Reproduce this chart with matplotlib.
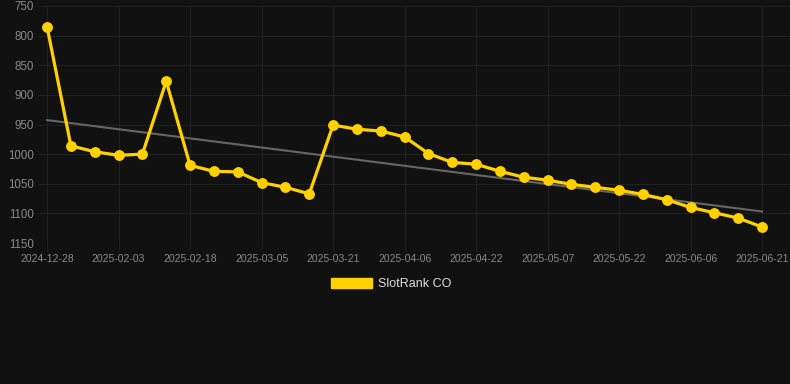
import numpy as np
import matplotlib
matplotlib.use("Agg")
import matplotlib.pyplot as plt
from matplotlib.patches import Patch

# rank values, one every ~5 days
ranks = [785, 986, 996, 1002, 1000, 877, 1019, 1029, 1030, 1048, 1056, 1067,
         951, 958, 961, 971, 999, 1014, 1017, 1029, 1039, 1044, 1051, 1056,
         1061, 1068, 1077, 1090, 1099, 1108, 1123]
# labels shown on every third point
tick_labels = ['2024-12-28', '2025-02-03', '2025-02-18', '2025-03-05', '2025-03-21',
               '2025-04-06', '2025-04-22', '2025-05-07', '2025-05-22', '2025-06-06',
               '2025-06-21']
y_ticks = [750, 800, 850, 900, 950, 1000, 1050, 1100, 1150]
series_name = 'SlotRank CO'

plt.rcParams['font.family'] = ['Liberation Sans', 'DejaVu Sans']

bg = '#111111'
grid_c = '#212121'
gold = '#FFD100'

fig = plt.figure(figsize=(7.9, 3.84), dpi=100, facecolor=bg)
ax = fig.add_axes([38/790, 1 - 243/384, 752/790, 237/384])
ax.set_facecolor(bg)

x = np.arange(len(ranks))
# linear trend over the series
k, b = np.polyfit(x, ranks, 1)
ax.plot([x[0], x[-1]], [k*x[0] + b, k*x[-1] + b], color='#666666', lw=1.5, zorder=2)
ax.plot(x, ranks, color=gold, lw=2.3, marker='o', ms=6.8, zorder=3)

ax.set_ylim(1150, 750)
ax.set_xlim(-0.38, 31.17)
ax.set_yticks(y_ticks)
ax.set_xticks(x[::3])
ax.set_xticklabels(tick_labels)
ax.grid(True, color=grid_c, lw=0.8, zorder=0)
for s in ax.spines.values():
    s.set_visible(False)
ax.tick_params(axis='y', length=0, pad=3, labelsize=8.3, labelcolor='#8a8a8a')
ax.tick_params(axis='x', length=6, color=grid_c, pad=2, labelsize=7.5, labelcolor='#8a8a8a')

leg = fig.legend(handles=[Patch(facecolor=gold, edgecolor=gold, label=series_name)],
                 loc='center', bbox_to_anchor=(0.495, 1 - 284/384), frameon=False,
                 handlelength=3.3, handleheight=0.8, handletextpad=0.5, fontsize=9)
for t in leg.get_texts():
    t.set_color('#dddddd')

fig.savefig('out.png', dpi=100, facecolor=bg)
